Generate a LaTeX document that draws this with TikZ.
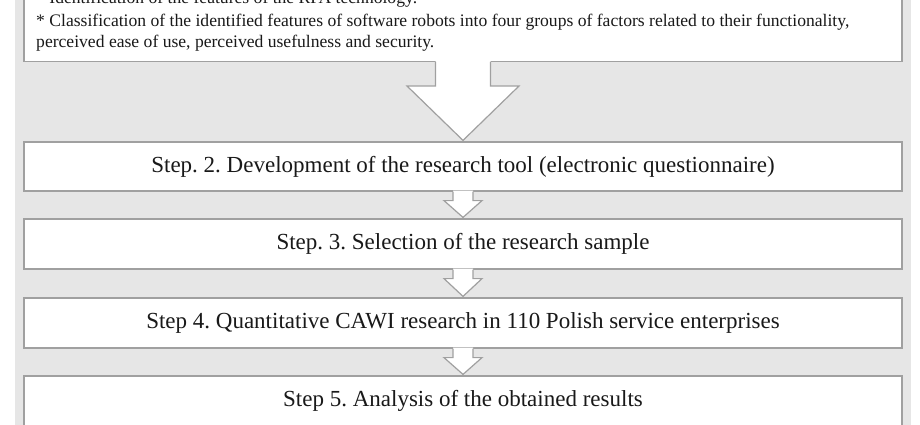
\documentclass[tikz,border=0pt]{standalone}
\usepackage{fontspec}
\setmainfont{Liberation Serif}
\usetikzlibrary{calc}
\definecolor{bgray}{RGB}{230,230,230}
\definecolor{lgray}{RGB}{160,160,160}
\definecolor{ink}{RGB}{25,25,25}
\tikzset{
 stepbox/.style={draw=lgray, line width=1.2pt, fill=white, minimum width=878pt, minimum height=49pt, inner sep=0pt, font=\fontsize{23}{27}\selectfont, text=ink, text height=14pt, text depth=3pt},
 note/.style={anchor=base west, inner sep=0pt, font=\fontsize{17.6}{21}\selectfont, text=ink},
 edge/.style={draw=lgray, line width=1.2pt, line join=miter},
}
\newcommand{\blockarr}[5]{%
 \fill[white] ($(#1.south)+(-#3,-1)$) -- ($(#1.south)+(-#3,#5)$) -- ($(#1.south)+(-#4,#5)$) -- ($(#2.north)+(0,-1)$) -- ($(#1.south)+(#4,#5)$) -- ($(#1.south)+(#3,#5)$) -- ($(#1.south)+(#3,-1)$) -- cycle;
 \draw[edge] ($(#1.south)+(-#3,0)$) -- ($(#1.south)+(-#3,#5)$) -- ($(#1.south)+(-#4,#5)$) -- ($(#2.north)+(0,-1)$) -- ($(#1.south)+(#4,#5)$) -- ($(#1.south)+(#3,#5)$) -- ($(#1.south)+(#3,0)$);}
\begin{document}
\frenchspacing
\begin{tikzpicture}[x=1pt,y=-1pt]
\useasboundingbox (0,0) rectangle (920,425);
\clip (0,0) rectangle (920,425);
\fill[bgray] (15,-10) rectangle (911,435);
\node[stepbox, minimum height=110pt, anchor=south] (top) at (463,62) {};
\node[note] (t0) at (36,3.3) {* Identification of the features of the RPA technology.};
\node[note] (t1) at (36,27) {* Classification of the identified features of software robots into four groups of factors related to their functionality,};
\node[note] (t2) at (36,48) {perceived ease of use, perceived usefulness and security.};
\node[stepbox] (s2) at (463,166.5) {Step. 2. Development of the research tool (electronic questionnaire)};
\node[stepbox, minimum height=50pt] (s3) at (463,244) {Step. 3. Selection of the research sample};
\node[stepbox, minimum height=50pt] (s4) at (463,323) {Step 4. Quantitative CAWI research in 110 Polish service enterprises};
\node[stepbox, minimum height=50pt] (s5) at (463,401) {Step 5. Analysis of the obtained results};
\blockarr{top}{s2}{27.5}{56}{24}
\blockarr{s2}{s3}{10}{19}{9}
\blockarr{s3}{s4}{10}{19}{9}
\blockarr{s4}{s5}{10}{19}{9}
\end{tikzpicture}
\end{document}
